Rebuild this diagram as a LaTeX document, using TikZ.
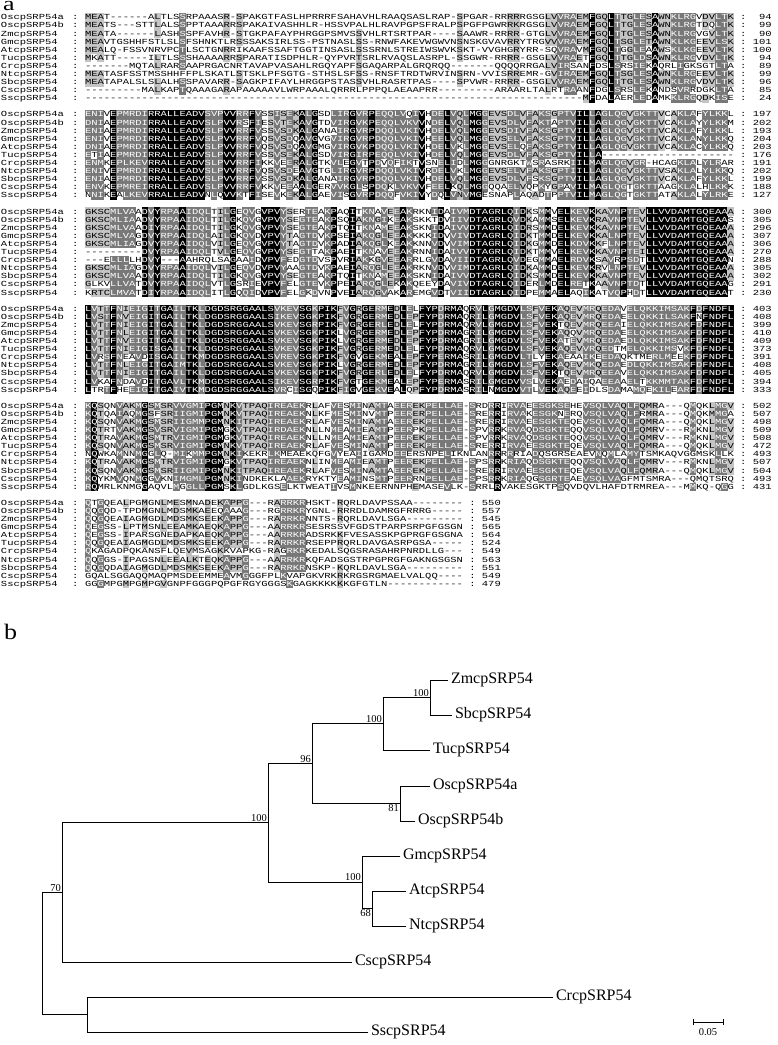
\documentclass[tikz,border=0pt]{standalone}
\usepackage{fontspec}
\usepackage{graphicx}
\setmainfont{Liberation Serif}
\setmonofont{Liberation Mono}
\definecolor{shadeDark}{gray}{0.47}
\definecolor{shadeLight}{gray}{0.77}
\newcommand\SeqX{85}
\newcommand\CW{6.3}
\newcommand\RowH{8.1}
\newcommand\SqY{0.74}
\tikzset{
  seqtext/.style={anchor=base west, inner sep=0pt, outer sep=0pt, font=\ttfamily\fontsize{10.5}{10.5}\selectfont},
  alnfill1/.style={fill=shadeLight},
  alnfill2/.style={fill=shadeDark},
  alnfill3/.style={fill=black},
  leaf/.style={anchor=west, inner xsep=3pt, inner ysep=0pt, outer sep=0pt, font=\fontsize{16}{16}\selectfont},
  boot/.style={inner sep=1pt, font=\fontsize{10.5}{10.5}\selectfont},
  branch/.style={line width=0.9pt, line cap=rect},
  panel/.style={anchor=base west, inner sep=0pt, font=\fontsize{26}{26}\selectfont}
}
\newcommand\alnrect[4]{%
  \fill[alnfill#4] ({\SeqX+#1*\CW-0.15},{#3-\RowH/2-0.2}) rectangle ({\SeqX+#2*\CW+0.15},{#3+\RowH/2+0.2});}
\newcommand\alntext[3]{%
  \node[seqtext] (#1) at (\SeqX,{#2+2.3}) {\scalebox{1}[\SqY]{#3}};}
\newcommand\alnlabel[6]{%
  \node[seqtext] (nm-#1-#2) at (1,{#3+2.3}) {\scalebox{1}[\SqY]{#4}};
  \node[seqtext] (ca-#1-#2) at (72,{#3+2.3}) {\scalebox{1}[\SqY]{:}};
  \node[seqtext] (cb-#1-#2) at ({\SeqX+(#6+1)*\CW},{#3+2.3}) {\scalebox{1}[\SqY]{:}};
  \node[seqtext,anchor=base east] (nr-#1-#2) at ({\SeqX+(#6+6)*\CW},{#3+2.3}) {\scalebox{1}[\SqY]{#5}};}

\ExplSyntaxOn
\int_new:N \l__aln_n_int
\int_new:N \l__aln_L_int
\int_new:N \l__aln_r_int
\int_new:N \l__aln_c_int
\int_new:N \l__aln_id_int
\int_new:N \l__aln_gr_int
\int_new:N \l__aln_lev_int
\int_new:N \l__aln_prev_int
\int_new:N \l__aln_start_int
\tl_new:N \l__aln_ch_tl
\tl_new:N \l__aln_g_tl
\tl_new:N \l__aln_row_tl
\tl_new:N \l__aln_y_tl
\tl_new:N \l__aln_txt_tl
\seq_new:N \l__aln_seqs_seq
\seq_new:N \l__aln_nums_seq
\seq_new:N \l__aln_names_seq
\seq_set_from_clist:Nn \l__aln_names_seq
  {OscpSRP54a,OscpSRP54b,ZmcpSRP54,GmcpSRP54,AtcpSRP54,TucpSRP54,CrcpSRP54,NtcpSRP54,SbcpSRP54,CscpSRP54,SscpSRP54}

\cs_new_protected:Npn \__aln_group:Nn #1#2
  {
    \str_case:nnF {#2}
      {
        {D}{\tl_set:Nn #1 {d}}
        {E}{\tl_set:Nn #1 {d}}
        {N}{\tl_set:Nn #1 {n}}
        {Q}{\tl_set:Nn #1 {n}}
        {K}{\tl_set:Nn #1 {k}}
        {R}{\tl_set:Nn #1 {k}}
        {S}{\tl_set:Nn #1 {s}}
        {T}{\tl_set:Nn #1 {s}}
        {F}{\tl_set:Nn #1 {f}}
        {Y}{\tl_set:Nn #1 {f}}
        {W}{\tl_set:Nn #1 {f}}
        {I}{\tl_set:Nn #1 {i}}
        {L}{\tl_set:Nn #1 {i}}
        {V}{\tl_set:Nn #1 {i}}
        {M}{\tl_set:Nn #1 {i}}
      }
      {\tl_set:Nn #1 {#2}}
  }

\cs_new_protected:Npn \aln_block:nnnn #1#2#3#4
  {
    \seq_set_from_clist:Nn \l__aln_seqs_seq {#3}
    \seq_set_from_clist:Nn \l__aln_nums_seq {#4}
    \int_set:Nn \l__aln_n_int { \seq_count:N \l__aln_seqs_seq }
    \int_zero:N \l__aln_L_int
    \int_zero:N \l__aln_r_int
    \seq_map_inline:Nn \l__aln_seqs_seq
      {
        \int_incr:N \l__aln_r_int
        \int_step_inline:nn { 120 }
          {
            \tl_set:cn { l__aln_ch_ \int_use:N \l__aln_r_int _ ####1 _tl } { - }
            \tl_set:cn { l__aln_gr_ \int_use:N \l__aln_r_int _ ####1 _tl } { - }
          }
        \int_zero:N \l__aln_c_int
        \tl_map_inline:nn {##1}
          {
            \int_incr:N \l__aln_c_int
            \tl_set:cn { l__aln_ch_ \int_use:N \l__aln_r_int _ \int_use:N \l__aln_c_int _tl } {####1}
            \__aln_group:Nn \l__aln_g_tl {####1}
            \tl_set_eq:cN { l__aln_gr_ \int_use:N \l__aln_r_int _ \int_use:N \l__aln_c_int _tl } \l__aln_g_tl
          }
        \int_compare:nNnT { \l__aln_c_int } > { \l__aln_L_int }
          { \int_set_eq:NN \l__aln_L_int \l__aln_c_int }
      }
    \int_step_inline:nn { \l__aln_L_int }
      {
        \int_step_inline:nn { \l__aln_n_int }
          {
            \tl_set_eq:Nc \l__aln_ch_tl { l__aln_ch_ ####1 _ ##1 _tl }
            \tl_set_eq:Nc \l__aln_g_tl { l__aln_gr_ ####1 _ ##1 _tl }
            \int_zero:N \l__aln_lev_int
            \str_if_eq:eeF { \l__aln_ch_tl } { - }
              {
                \int_zero:N \l__aln_id_int
                \int_zero:N \l__aln_gr_int
                \int_step_inline:nn { \l__aln_n_int }
                  {
                    \str_if_eq:eeT { \tl_use:c { l__aln_ch_ ########1 _ ##1 _tl } } { \l__aln_ch_tl }
                      { \int_incr:N \l__aln_id_int }
                    \str_if_eq:eeT { \tl_use:c { l__aln_gr_ ########1 _ ##1 _tl } } { \l__aln_g_tl }
                      { \int_incr:N \l__aln_gr_int }
                  }
                \int_compare:nNnTF { \l__aln_id_int } = { \l__aln_n_int }
                  { \int_set:Nn \l__aln_lev_int { 3 } }
                  {
                    \int_compare:nNnTF { \l__aln_gr_int } > { 8 }
                      { \int_set:Nn \l__aln_lev_int { 2 } }
                      {
                        \int_compare:nNnT { \l__aln_gr_int } > { 6 }
                          { \int_set:Nn \l__aln_lev_int { 1 } }
                      }
                  }
              }
            \tl_set:cx { l__aln_lv_ ####1 _ ##1 _tl } { \int_use:N \l__aln_lev_int }
          }
      }
    \tl_clear:N \l__aln_txt_tl
    \int_step_inline:nn { \l__aln_n_int }
      {
        \tl_set:Nx \l__aln_y_tl { \fp_eval:n { #2 + (##1 - 1) * \RowH } }
        \int_zero:N \l__aln_prev_int
        \int_zero:N \l__aln_start_int
        \tl_clear:N \l__aln_row_tl
        \int_step_inline:nn { \l__aln_L_int }
          {
            \int_set:Nn \l__aln_lev_int { \tl_use:c { l__aln_lv_ ##1 _ ####1 _tl } }
            \int_compare:nNnF { \l__aln_lev_int } = { \l__aln_prev_int }
              {
                \int_compare:nNnT { \l__aln_prev_int } > { 0 }
                  {
                    \use:x
                      {
                        \exp_not:N \alnrect
                          { \int_use:N \l__aln_start_int }
                          { \int_eval:n { ####1 - 1 } }
                          { \l__aln_y_tl }
                          { \int_use:N \l__aln_prev_int }
                      }
                  }
                \int_set:Nn \l__aln_start_int { ####1 - 1 }
                \int_set_eq:NN \l__aln_prev_int \l__aln_lev_int
              }
            \int_compare:nNnTF { \l__aln_lev_int } > { 1 }
              {
                \tl_put_right:Nx \l__aln_row_tl
                  { \exp_not:N \textcolor {white} { \tl_use:c { l__aln_ch_ ##1 _ ####1 _tl } } }
              }
              {
                \tl_put_right:Nx \l__aln_row_tl { \tl_use:c { l__aln_ch_ ##1 _ ####1 _tl } }
              }
          }
        \int_compare:nNnT { \l__aln_prev_int } > { 0 }
          {
            \use:x
              {
                \exp_not:N \alnrect
                  { \int_use:N \l__aln_start_int }
                  { \int_use:N \l__aln_L_int }
                  { \l__aln_y_tl }
                  { \int_use:N \l__aln_prev_int }
              }
          }
        \tl_put_right:Nx \l__aln_txt_tl
          {
            \exp_not:N \alntext { s-#1-##1 } { \l__aln_y_tl } { \exp_not:V \l__aln_row_tl }
            \exp_not:N \alnlabel {#1} {##1} { \l__aln_y_tl }
              { \seq_item:Nn \l__aln_names_seq {##1} }
              { \seq_item:Nn \l__aln_nums_seq {##1} }
              { \int_use:N \l__aln_L_int }
          }
      }
    \tl_use:N \l__aln_txt_tl
  }
\cs_new_eq:NN \AlnBlock \aln_block:nnnn
\ExplSyntaxOff

\begin{document}
\begin{tikzpicture}[x=1pt,y=-1pt]
\useasboundingbox (0,0) rectangle (778,1045);
\fill[white] (0,0) rectangle (778,1045);

\node[panel] (pa) at (3,10.5) {\scalebox{1}[0.75]{a}};

\AlnBlock{1}{17.5}{
MEAT------ALTLSSRPAAASR-SPAKGTFASLHPRRRFSAHAVHLRAAQSASLRAP-SPGAR-RRRRRGSGLVVRAEMFGQLTTGLESAWNKLRGVDVLTK,
MEATS---STTLALSSPPTAAARRSPAKAIVASHHLR-HSSVPALHLRAVPGPSFRALPSPGFPGWRRKRGSGLVVRAEMFGQLTTGLESAWNKLRGTDQLTK,
MEATA------LASHSSPFAVHR-STGKPAFAYPHRGGPSMVSSVHLRTSRTPAR----SAAWR-RRRR-GTGLVVRAEMFGQLTTGLESAWNKLRGVGVLTK,
MEAVTGSHHFSTLSLSFSHNKTLRSSSAKSIRLSS-PSTNASLSS-RNWFAKEVWGWVNSNSKGVAVRRYTRGVVVRAEMFGQLTSGLETAWNKLKGEEVLSK,
MEALQ-FSSVNRVPCTLSCTGNRRIKAAFSSAFTGGTINSASLSSSRNLSTREIWSWVKSKT-VVGHGRYRR-SQVRAVMFGQLTGGLEAAWSKLKGEEVLTK,
MKATT-----ILTLSSSHAAAARRSPARATISDPHLR-QYPVRTSRLRVAQSLASRPL-SSGWR-RRRR-GSGLVVRAETFGQLTTGLDSAWNKLRGVDVLTK,
-------MQTALRARSAAPRGACNRTAVAPVASAHLRGQYAPFSGAQARPALGRQRQQ-------QQQQRRGALVIRSANFDSLSRSIEKAQRLIGKSGTLTA,
MEATASFSSTMSSHHFFPLSKATLSTSKLPFSGTG-STHSLSFSS-RNSFTRDTWRVINSRN-VVISRREMR-GVIRAEMFGQLTSGLESAWNKLRGEEVLTK,
MEATAPALSLSLALHSSPAVARR-SAGKPIFAYLHRGGPSTASSVHLRASRTPAS----SPVWR-RRRR-GSGLVVRAEMFGQLTTGLESAWNKLRGVDVLTK,
---------MALKAPTQAAAGARAPAAAAAVLWRPAAALQRRRLPPPQLAEAAPRR---------ARAARLTALRTRAANFDGLSRSLEKANDSVRRDGKLTA,
-------------------------------------------------------------------------------MFDALAERLEDAMKKLRGQDKISE
}{94,99,90,101,100,94,89,99,96,85,24}

\AlnBlock{2}{114.6}{
ENIVEPMRDIRRALLEADVSVPVVRRFVSSISEKALGSDLIRGVRPEQQLVQIVHDELVQLMGGEVSDLVFAKSGPTVILLAGLQGVGKTTVCAKLAFYLKKL,
DNIAEPMRDIRRALLEADVSLPVVRSFIESVTEKAVGTDVIRGVKPEQQLVKVVNDELVQLMGGEVSDLVFAKTAPTVILLAGLQGVGKTTVCAKLAYYLKKM,
ENIAEPMRDIRRALLEADVSLPVVRRFVSSVSDKALGANAIRGVRPDQQLVKIVHDELVQLMGGEVSDIVFAKSGPTVILLAGLQGVGKTTVCAKLAFYLKKL,
ENIVEPMRDIRRALLEADVSLPVVRRFVQSVSDQAVGVGVIRGVRPDQQLVKIVHEELVQLMGGEVSELVFAKSGPTVILLAGLQGVGKTTVCAKLANYLKKQ,
DNIAEPMRDIRRALLEADVSLPVVRRFVQSVSDQAVGMGVIRGVKPDQQLVKIVHDELVKLMGGEVSELQFAKSGPTVILLAGLQGVGKTTVCAKLACYLKKQ,
ETIAEPMRDIRRALLEADVSLPVVRRFVSSVSEKALGSDVIRGIRPEQQLVKIVHDELVQLMGGEVSDLVFAKSGPTVILLA---------------------,
ENMKEPLKEVRRALLEADVSLPVVRRFIKKVEERALGTKVLEGVTPDVQFIKTVSNELIDLMGGGNRGKTWSRASRKIILMAGLQGVGR-HCAGKLALYLRAR,
ENIVEPMRDIRRALLEADVSLPVVRRFVQSVSDEAVGTGLIRGVRPDQQLVKIVRDELVKLMGGEVSELVFAKSGPTIILLAGLQGVGKTTVSAKLALYLKKQ,
ENIAEPMRDIRRALLEADVSLPVVRRFVSSVSDKALGANAIRGVRPDQQLVKIVHDELVQLMGGEVSDLVFSKSGPTVILLAGLQGVGKTTVCAKLAFYLKKL,
ENVKEPMREIRRALLEADVSLPVVRRFVKKVEEAALGERVVKGLSPDQKLVKVVFEELKQLMGGQQAELVQPKYGPAVILMAGLQGTGKTTAAGKLALHLKKK,
NNIKEALKEVRRALLEADVNLQVVKTFISEVKEKALGAEVISGVRPDQQFVKIVYDQLVNVMGESNAPLAQADTPPTVILMAGLQGTGKTTATAKLALYLRKE
}{197,202,193,204,203,176,191,202,199,188,127}

\AlnBlock{3}{211.7}{
GKSCMLVAADVYRPAAIDQLTILGEQVGVPVYSERTEAKPAQITKNAVEEAKRKNIDAIVMDTAGRLQIDKSMMVELKEVKKAVNPTEVLLVVDAMTGQEAAA,
GKSCMLIAADVYRPAAIDQLTILGKQVGVPVYSEGTEAKPSQIAKNGIKEAKSKKTDVIIVDTAGRLQVDKAMMSELKEVKRAVNPTEVLLVVDAMTGQEAAS,
GKSCMLVAADIYRPAAIDQLTILGKQVGVPVYSEGTEAKPTQITKNAMEEAKSKNIDAIVVDTAGRLQIDRSMMDELKEVKKAVNPTEVLLVVDAMTGQEAAA,
GKSCMLVAGDVYRPAAIDQLAILGKQVDVPVYTAGTDVKPSEIAKQGLEEAKKKKIDVVIVDTAGRLQIDKTMMDELKEVKKALNPTEVLLVVDAMTGQEAAA,
GKSCMLIAGDVYRPAAIDQLVILGEQVGVPVYTAGTDVKPADIAKQGLKEAKKNNVDVVIMDTAGRLQIDKGMMDELKDVKKFLNPTEVLLVVDAMTGQEAAA,
---------DVYRPAAIDQLTVLGEQVGVPVYSEGTTAKPAEITKNAVEEAKRNNIDAIVVDTAGRLQIDKTMMVELKEVKKAVNPTEILLVVDAMTGQEAAA,
---ELLLLHDVY---AAHRQLSAGAAIDVPVFEDGTDVSPVRIAKKGVEEARRLGVDAVIIDTAGRLQVDEGMMAELRDVKSAVRPSDTLLVVDAMTGQEAAN,
GKSCMLIAGDVYRPAAIDQLVILGEQVDVPVYAAGTDVKPAEIARQGLEEAKRKNVDVVIMDTAGRLQIDKAMMDELKEVKRVLNPTEVLLVVDAMTGQEAAA,
GKSCMLVAADVYRPAAIDQLTILGKQVGVPVYSEGTEAKPTQITKNAMEEAKSKNIDAIVVDTAGRLQIDKSMMDELKEVKKAVNPTEVLLVVDAMTGQEAAA,
GLKVLLVATDVYRPAAIDQLVTLGSRIEVPVFELGTEVKPPEIARQGLEKAKQEEYDAVIVDTAGRLQIDERLMDELRETKAAVNPTDTLLVVDAMTGQEAAG,
KRTCLMVATDIYRPAAIDQLITLGQQIDVPVFELGKDVNPVEIARQGVAKAREMGVDTVIIDTAGRLQIDPEMMAELAQIKATVQPHDTLLVVDAMTGQEAAT
}{300,305,296,307,306,270,288,305,302,291,230}

\AlnBlock{4}{308.8}{
LVTTFNIEIGITGAILTKLDGDSRGGAALSVKEVSGKPIKFVGRGERMEDLELFYPDRMAQRVLGMGDVLSFVEKAQEVMRQEDAVELQKKIMSAKFDFNDFL,
LVSTFNVEIGITGAILTKLDGDSRGGAALSIKEVSGKPIKFVGRGERMEDLEPFYPDRMAQRILGMGDVLSFVEKAQEVMRQEDAEELQKKILSAKFNFNDFL,
LVTTFNIEIGITGAILTKLDGDSRGGAALSVKEVSGRPIKFVGRGERLEDLELFYPDRMAQRVLGMGDVLSFVEKTQEVMRQEEAIELQKKIMSAKFDFNDFL,
LVTTFNLEIGITGAILTKLDGDSRGGAALSVKEVSGKPIKLVGRGERMEDLEPFYPDRMAGRILGMGDVLSFVEKAQQVMRQEDAEELQKKIMSAKFDFNDFL,
LVTTFNVEIGITGAILTKLDGDSRGGAALSVKEVSGKPIKLVGRGERMEDLEPFYPDRMAGRILGMGDVLSFVEKATEVMRQEDAEDLQKKIMSAKFDFNDFL,
LVTTFNIEIGISGAILTKLDGDSRGGAALSVKEVSGKPIKFVGRGERMEDLELFYPDRMAQRVLGMGDVLSFVEKAQEVVRQEDTMELQKKIMSVKFDFNDFL,
LVRSFNEAVDISGAILTKMDGDSRGGAALSVREVSGKPIKFVGVGEKMEALEPFYPERMASRILGMGDVLTLYEKAEAAIKEEDAQKTMERLMEEKFDFNDFL,
LVTTFNLEIGITGAIMTKLDGDSRGGAALSVKEVSGKPIKLVGRGERMEDLEPFYPDRMAGRILGMGDVLSFVEKAQEVMKQEDAEDLQKKIMSAKFDFNDFL,
LVTTFNIEIGITGAILTKLDGDSRGGAALSVKEVSGKPIKFVGRGERLEDLELFYPDRMAQRVLGMGDVLSFVEKTQEVMRQEEAVELQKKIMSAKFDFNDFL,
LVKAFNDAVDITGAVLTKMDGDSRGGAALSIKEVSGRPIKFVGTGEKMEALEPFYPERMASRILGMGDVVSLVEKAEDAIQAEEAAELTKKMMTAKFDFNDFL,
LTRTFHEEIGITGAIVTKMDGDSRGGAALSVRCISGQPIKFIGVGEKVEALQPFYPDRMASRILNMGDVVTLVEKAQEEIDLSDAMAMQEKILEARFDFNDFL
}{403,408,399,410,409,373,391,408,405,394,333}

\AlnBlock{5}{405.9}{
KQSQNVAKMGSMSRVVGMIPGMNKVTPAQIREAEKRLAFVESMINAMTAEEREKPELLAE-SRDRRIRVAEESGKSEHEVSQLVAQLFQMRA---QMQKLMGV,
KQTQAIAQMGSFSRIIGMIPGMNKVTPAQIREAEKNLKFMESMINVMTPEERERPELLAE-SRERRIRVAKESGKNERQVSQLVAQLFRMRA---QMQKMMGA,
KQSQNVAKMGSMSRIIGMMPGMNKITPAQIREAEKRLAFVESMINAMTAEEREKPELLAE-SRERRIRVAEESGKTEQEVSQLVAQLFQMRA---QMQKLMGV,
KQTRTVAKMGSVSRVIGMIPGMGKVTPAQIRDAEKNLLNMEAMIEAMTPEERPKPELLAE-SPVRRKRVAQDSGKTEQQVSQLVAQLFQMRV---RMKNLMGV,
KQTRAVAKMGSMTRVIGMIPGMGKVTPAQIREAEKNLLNMEAMIEAMTPEEREKPELLAE-SPVRRKRVAQDSGKTEQQVSQLVAQLFQMRV---RMKNLMGV,
KQSQNVAKMGSMSRVIGMIPGMNKVTPAQIREAEKRLAFVESMINAMTPEEREKPELLAE-SRERRIRVAEESGKTEQEVSQLVAQLFQMRA---QMQKLMGV,
NQWKAMNNMGGLQ-MIKMMPGMNKIKEKRLKMEAEKQFGVYEAIIGAMDEEERSNPELIKNLANRRRRRIADQSGRSEAEVNQMLAMYTSMKAQVGGMSKLLK,
KQTRAVAKMGSMTRVIGMIPGMGKVTPAQIREAEKNLINMEAMIEAMTPEEREKPELLAE-SPSRRKRIAQDSGKTEQQVSQLVAQLFQMRV---RMKNLMGV,
KQSQNVAKMGSMSRIIGMIPGMNKITPAQIREAEKRLAFVESMINAMTAEEREKPELLAE-SRERRIRVAEESGKTEQEVSQLVAQLFQMRA---QMQKLMGV,
KQYKMVQNMGGVKNIMGMLPGMNKINDKEKLAAEKRYKTYEAMINSMTPEERRNPELLAE-SPSRRKRIAQGSGRTEAEVSQLVAGFMTSMRA---QMQTSRQ,
RQMRLKNMGGAQVLMGGLLPGMSKLGDLKGSELKTWEATIVSMNKEERNNPHEMASEVLK-SRRLRVAKESGKTPSQVDQVLHAFDTRMREA---MMKQ-QGG
}{502,507,498,509,508,472,493,507,504,493,431}

\AlnBlock{6}{503}{
QTGQEALPGMGNLMESMNADEKAPPG---RARRKRHSKT-RQRLDAVPSSAA--------,
QQGQD-TPDMGNLMDSMKAEEQAAAG---RGRRKRYGNL-RRRDLDAMRGFRRRG-----,
QQGQEAIAGMGDLMDSMKSEEKAPPG---RARRKRNNTS-RQRLDAVLSGA---------,
QEGSS-LPTMSNLEEAMKAEQKAPPG---AARRKRSESRSSVFGDSTPARPSRPGFGSGN,
QEGSS-IPARSGNEDAPKAEQKAPPG---AARRKRADSRKKFVESASSKPGPRGFGSGNA,
QQGQEAIAGMGDLMDSMKSEEKAPPG---RARRKRRSEPPRQRLDAVGASRPGSA-----,
QKAGADPQKANSFLQEVMSAGKKVAPKG-RAGRKRKEDALSQGSRASAHRPNRDLLG---,
QQGGS-IPAGSNLEEALKTEQKAPPG---AARRKRKQFADSGSTRPGPRGFGAKNGSGSN,
QQGQDAIAGMGDLMDSMKSEEKAPPG---RARRKRNSKP-KQRLDAVLSGA---------,
GQALSGGAQQMAQPMSDEEMMEAVMGGGFPLKVAPGKVRKRKRGSRGMAELVALQQ----,
GGGMPGMPGMPGVGNPFGGGPQPGFRGYGGGSKGAGKKKKKKGFGTLN------------
}{550,557,545,565,564,524,549,563,551,549,479}

% ---------------- panel b: tree ----------------
\node[panel] (pb) at (4,639) {\scalebox{1}[0.85]{b}};

\node[leaf] (zm)  at (448,680)  {ZmcpSRP54};
\node[leaf] (sb)  at (452,715)  {SbcpSRP54};
\node[leaf] (tu)  at (430,750)  {TucpSRP54};
\node[leaf] (osa) at (430,786)  {OscpSRP54a};
\node[leaf] (osb) at (415,821)  {OscpSRP54b};
\node[leaf] (gm)  at (400,856)  {GmcpSRP54};
\node[leaf] (at)  at (406,891)  {AtcpSRP54};
\node[leaf] (nt)  at (406,926)  {NtcpSRP54};
\node[leaf] (cs)  at (352,962)  {CscpSRP54};
\node[leaf] (cr)  at (553,997)  {CrcpSRP54};
\node[leaf] (ss)  at (368,1032) {SscpSRP54};

\coordinate (N1) at (430,697.5);
\coordinate (N2) at (383,723.75);
\coordinate (N3) at (400,803.5);
\coordinate (N4) at (312,763.6);
\coordinate (N5) at (372,908.5);
\coordinate (N6) at (362,882.25);
\coordinate (N7) at (268,822.9);
\coordinate (N8) at (62,892.5);
\coordinate (N9) at (87,1014.5);
\coordinate (R)  at (42,953.5);

\draw[branch] (N1) |- (zm.west);
\draw[branch] (N1) |- (sb.west);
\draw[branch] (N2) |- (N1);
\draw[branch] (N2) |- (tu.west);
\draw[branch] (N3) |- (osa.west);
\draw[branch] (N3) |- (osb.west);
\draw[branch] (N4) |- (N2);
\draw[branch] (N4) |- (N3);
\draw[branch] (N5) |- (at.west);
\draw[branch] (N5) |- (nt.west);
\draw[branch] (N6) |- (gm.west);
\draw[branch] (N6) |- (N5);
\draw[branch] (N7) |- (N4);
\draw[branch] (N7) |- (N6);
\draw[branch] (N8) |- (N7);
\draw[branch] (N8) |- (cs.west);
\draw[branch] (N9) |- (cr.west);
\draw[branch] (N9) |- (ss.west);
\draw[branch] (R) |- (N8);
\draw[branch] (R) |- (N9);

\node[boot,anchor=south east] (bs1) at (N1) {100};
\node[boot,anchor=south east] (bs2) at (N2) {100};
\node[boot,anchor=north east] (bs3) at (N3) {81};
\node[boot,anchor=south east] (bs4) at (N4) {96};
\node[boot,anchor=south east] (bs6) at (N6) {100};
\node[boot,anchor=north east] (bs5) at (N5) {68};
\node[boot,anchor=south east] (bs7) at (N7) {100};
\node[boot,anchor=south east] (bs8) at (N8) {70};

\coordinate (sbl) at (693,1022);
\coordinate (sbr) at (723,1022);
\draw[line width=0.8pt] (sbl) -- (sbr);
\draw[line width=0.8pt] ([yshift=-3pt]sbl) -- ([yshift=3pt]sbl);
\draw[line width=0.8pt] ([yshift=-3pt]sbr) -- ([yshift=3pt]sbr);
\node[boot,anchor=north] (sbt) at (708,1027) {0.05};
\end{tikzpicture}
\end{document}
